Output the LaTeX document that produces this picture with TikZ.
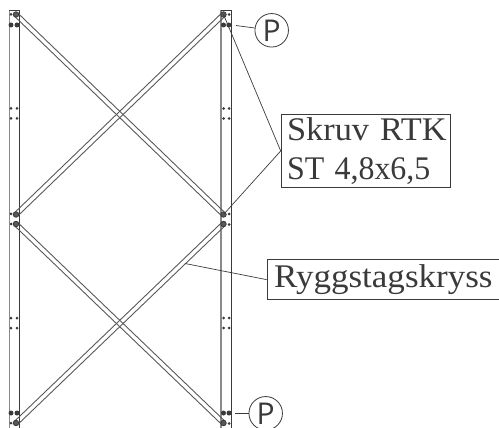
\documentclass[tikz,border=0pt]{standalone}
\usepackage{fontspec}
\usepackage{graphicx}
\setmainfont[FakeStretch=1.04,WordSpace=0.55]{Liberation Serif}
\newfontfamily\circlefont{Open Sans}
\usetikzlibrary{calc}
\definecolor{ink}{HTML}{3A3A3A}
\definecolor{railgrey}{HTML}{8A8A8A}
\tikzset{
  railouter/.style={draw=railgrey,line width=1.5pt},
  railinner/.style={draw=ink,line width=0.9pt},
  leader/.style={draw=ink,line width=0.7pt},
  barline/.style={draw=ink!85,line width=0.9pt},
  labelbox/.style={draw=ink,line width=0.9pt,fill=white,text=ink,inner sep=0pt,anchor=north west,align=left,font=\fontsize{33}{39}\selectfont},
  pcircle/.style={circle,draw=ink,line width=0.8pt,fill=white,inner sep=0pt,minimum size=33.5pt,text=ink,font=\circlefont\fontsize{30}{30}\selectfont},
  boltdot/.style={circle,fill=ink,inner sep=0pt,minimum size=3pt},
  bigdot/.style={circle,fill=ink,inner sep=0pt,minimum size=5pt},
  screwnode/.style={circle,draw=ink,line width=0.8pt,fill=ink!85,inner sep=0pt,minimum size=5.5pt},
}
\newcommand{\bracearm}[2]{%
  \draw[barline] ($(#1)!2.3pt!90:(#2)$) -- ($(#2)!2.3pt!-90:(#1)$);
  \draw[barline] ($(#1)!2.3pt!-90:(#2)$) -- ($(#2)!2.3pt!90:(#1)$);
}
\begin{document}
\begin{tikzpicture}[x=1pt,y=-1pt]
\useasboundingbox (0,0) rectangle (499,428);
% rails
\draw[railouter] (9.3,428) -- (9.3,10.5) -- (19.3,10.5);
\draw[railinner] (19.3,10.5) -- (19.3,428);
\draw[railinner] (9.3,10) -- (19.3,10);
\draw[railouter] (221,428) -- (221,10.5) -- (231.5,10.5);
\draw[railinner] (231.5,10.5) -- (231.5,428);
\draw[railinner] (221,10) -- (231.5,10);
% screw positions
\coordinate (tl) at (16,14.5);
\coordinate (tr) at (223.5,14.5);
\coordinate (ml) at (16,214.5);
\coordinate (mr) at (223.5,214.5);
\coordinate (nl) at (16,224);
\coordinate (nr) at (223.5,224);
\coordinate (bl) at (16,423);
\coordinate (br) at (223.5,423);
% braces
\bracearm{tl}{mr}
\bracearm{tr}{ml}
\bracearm{nl}{br}
\bracearm{nr}{bl}
% screws
\foreach \s in {tl,ml,nl,bl,tr,mr,nr,br} \node[screwnode] (s\s) at (\s) {};
% holes in the rails
\foreach \x in {11,17,223.5,229}
  \foreach \y in {108.5,118.5,318,328}
    \node[boltdot] (h\x-\y) at (\x,\y) {};
\foreach \p/\n in {{11,14.5}/a,{229,14.5}/b,{11,214}/c,{229,214}/d,{11,224}/e,{229,224.5}/f,{11,423}/g,{229,423.5}/i}
  \node[boltdot] (k\n) at (\p) {};
\foreach \p/\n in {{11,25}/a,{17,25}/b,{223.5,25}/c,{228.8,25}/d,{11,413}/e,{17,413}/f,{223.5,413}/g,{229,413}/i}
  \node[bigdot] (m\n) at (\p) {};
% labels
\node[labelbox,minimum width=169.3pt,minimum height=72.4pt,text width=169.3pt] (skruv) at (280.7,114.3) {\hspace*{6pt}Skruv RTK\\\hspace*{6pt}\scalebox{0.93}[1]{ST 4,8x6,5}};
\node[labelbox,minimum width=233pt,minimum height=40pt,text width=233pt] (rygg) at (266.7,259.2) {\hspace*{7pt}\scalebox{1.02}[1]{Ryggstagskryss}};
\node[pcircle] (p1) at (271.7,30.3) {P};
\node[pcircle] (p2) at (265.7,413.3) {P};
% leaders
\draw[leader] (skruv.west) -- (tr);
\draw[leader] (skruv.west) -- (mr);
\coordinate (ryggend) at (185,263.5);
\draw[leader] (rygg.west) -- (ryggend);
\coordinate (p1end) at (236,25.5);
\draw[leader] (p1) -- (p1end);
\coordinate (p2end) at (235,413.3);
\draw[leader] (p2) -- (p2end);
\end{tikzpicture}
\end{document}
